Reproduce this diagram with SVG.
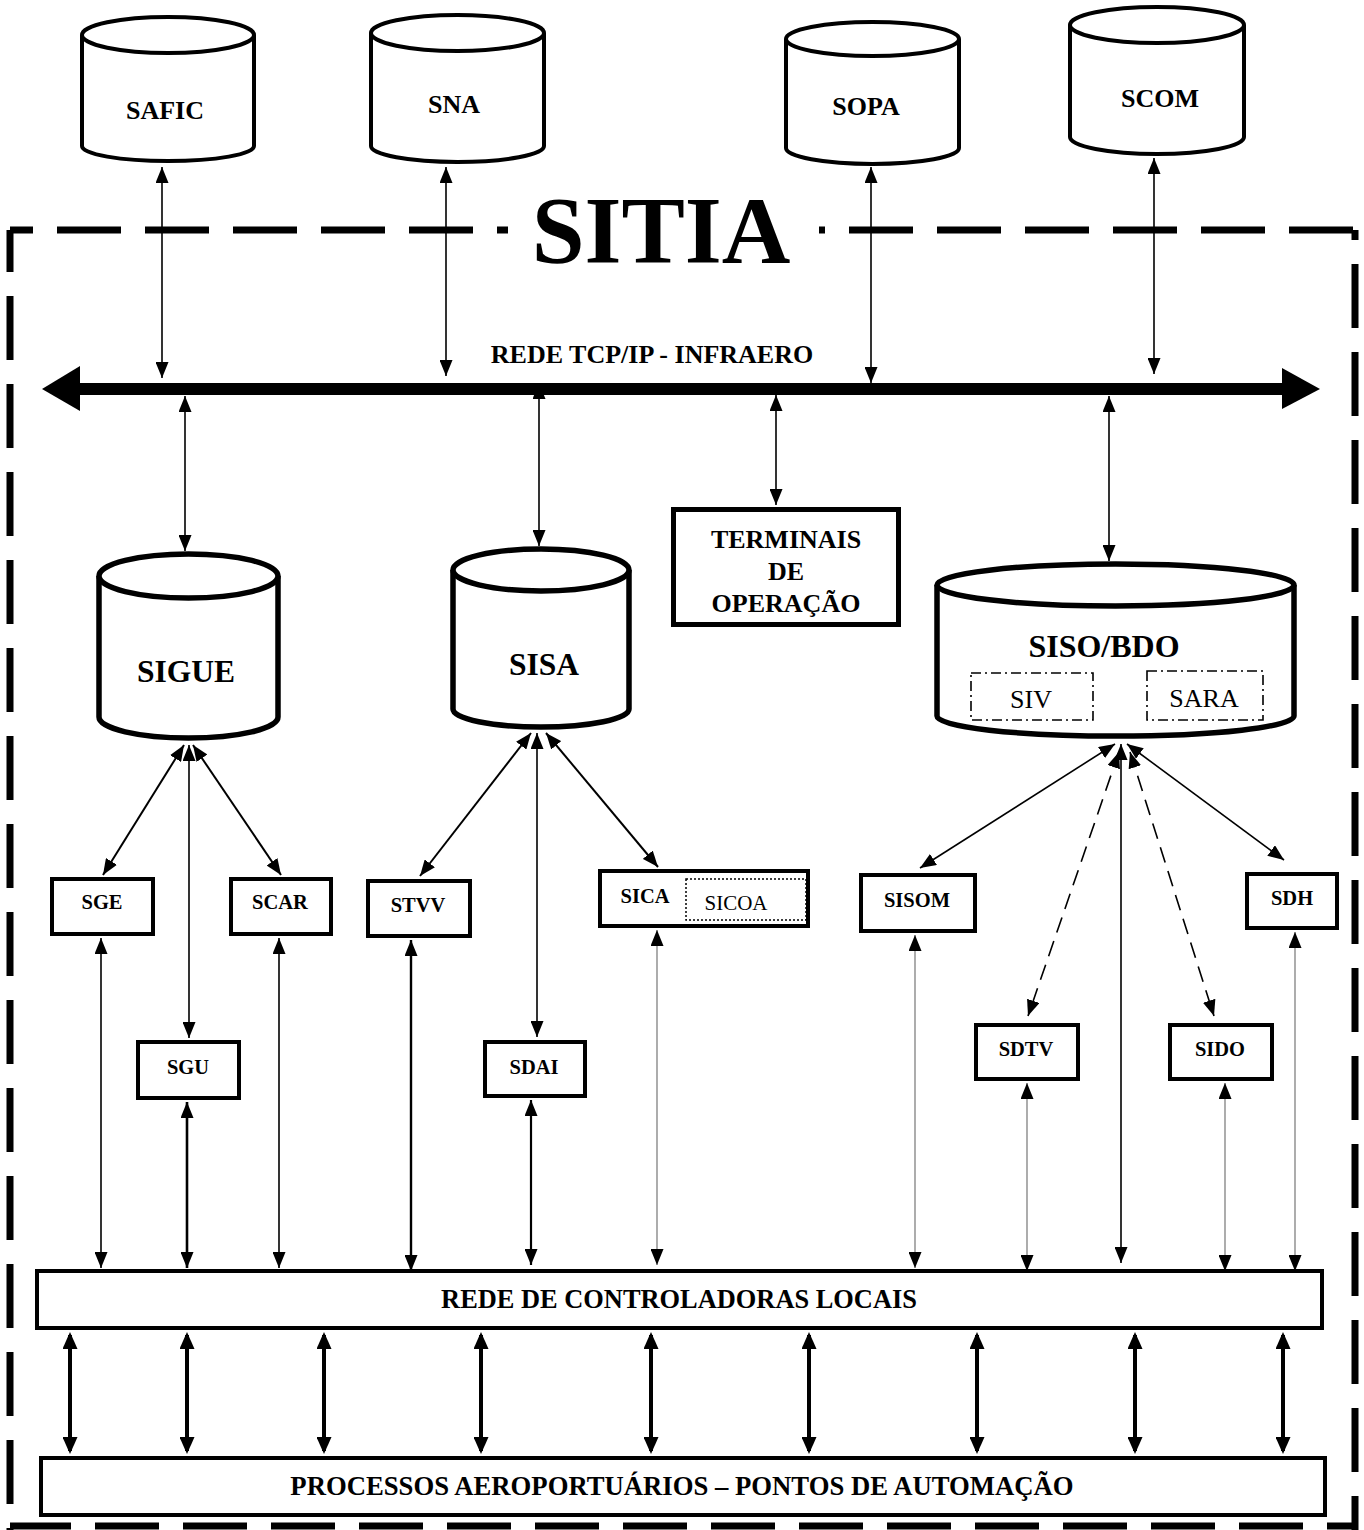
<svg xmlns="http://www.w3.org/2000/svg" width="1364" height="1530" viewBox="0 0 1364 1530">
<style>
  text { font-family: "Liberation Serif", "Times New Roman", serif; fill: #000; text-anchor: middle; }
  .b { font-weight: bold; }
  .t26 { font-size: 26px; }
  .t21 { font-size: 20.5px; }
  .t31 { font-size: 31.5px; }
  .cyl { fill: #fff; stroke: #000; }
  .box { fill: #fff; stroke: #000; stroke-width: 4; }
  .border { fill: none; stroke: #000; stroke-width: 7; stroke-dasharray: 64 24; }
  .c { fill: none; stroke: #000; stroke-width: 1.6; marker-start: url(#ah); marker-end: url(#ah); }
  .cg { fill: none; stroke: #808080; stroke-width: 1.3; marker-start: url(#ah); marker-end: url(#ah); }
  .cd { stroke-dasharray: 16 9; }
  .ct { fill: none; stroke: #000; stroke-width: 4; marker-start: url(#ahT); marker-end: url(#ahT); }
</style>
<defs>
  <marker id="ah" viewBox="0 0 16 13" refX="16" refY="6.5" markerWidth="16" markerHeight="13" markerUnits="userSpaceOnUse" orient="auto-start-reverse">
    <path d="M0,0 L16,6.5 L0,13 z" fill="#000"/>
  </marker>
  <marker id="ahT" viewBox="0 0 17 15" refX="14" refY="7.5" markerWidth="17" markerHeight="15" markerUnits="userSpaceOnUse" orient="auto-start-reverse">
    <path d="M0,0 L17,7.5 L0,15 z" fill="#000"/>
  </marker>
</defs>
<rect width="1364" height="1530" fill="#fff"/>

<g id="sitia-border">
  <path class="border" d="M10,230 H1355" stroke-dashoffset="41"/>
  <path class="border" d="M1355,230 V1530" stroke-dashoffset="54"/>
  <path class="border" d="M10,230 V1530" stroke-dashoffset="22"/>
  <path class="border" d="M10,1526 H1355" stroke-dashoffset="3"/>
  <rect x="508" y="222" width="311" height="18" fill="#fff"/>
  <text class="b" x="661" y="263" style="font-size:95px">SITIA</text>
</g>

<g id="connectors">
  <!-- external systems to TCP/IP network -->
  <path class="c" d="M162,167 V378"/>
  <path class="c" d="M446,167 V376"/>
  <path class="c" d="M871,167 V383"/>
  <path class="c" d="M1154,158 V374"/>
  <!-- network to internal systems -->
  <path class="c" d="M185,396 V551"/>
  <path class="c" d="M539,383 V546"/>
  <path class="c" d="M776,395 V505"/>
  <path class="c" d="M1109,396 V561"/>
  <!-- SIGUE branches -->
  <path class="c" style="stroke-width:2" d="M184,745 L103,875"/>
  <path class="c" style="stroke-width:2" d="M193,745 L281,875"/>
  <path class="c" d="M189,745 V1038"/>
  <!-- SISA branches -->
  <path class="c" style="stroke-width:2" d="M531,733 L420,876"/>
  <path class="c" style="stroke-width:2" d="M546,733 L658,867"/>
  <path class="c" d="M537,733 V1037"/>
  <!-- SISO/BDO branches -->
  <path class="c" d="M1115,744 L920,868"/>
  <path class="c" d="M1127,744 L1284,860"/>
  <path class="c cd" d="M1119,752 L1028,1016"/>
  <path class="c cd" d="M1130,752 L1214,1016"/>
  <path class="c" d="M1121,744 V1263"/>
  <!-- subsystems to local controller network -->
  <path class="c" d="M101,938 V1268"/>
  <path class="c" style="stroke-width:2.6" d="M187,1102 V1268"/>
  <path class="c" d="M279,938 V1268"/>
  <path class="c" style="stroke-width:2.4" d="M411,940 V1271"/>
  <path class="c" style="stroke-width:2.2" d="M531,1100 V1265"/>
  <path class="cg" d="M657,930 V1265"/>
  <path class="cg" d="M915,935 V1268"/>
  <path class="cg" d="M1027,1083 V1271"/>
  <path class="cg" d="M1225,1083 V1271"/>
  <path class="cg" d="M1295,932 V1271"/>
  <!-- local controllers to automation points -->
  <path class="ct" d="M70,1335 V1451"/>
  <path class="ct" d="M187,1335 V1451"/>
  <path class="ct" d="M324,1335 V1451"/>
  <path class="ct" d="M481,1335 V1451"/>
  <path class="ct" d="M651,1335 V1451"/>
  <path class="ct" d="M809,1335 V1451"/>
  <path class="ct" d="M977,1335 V1451"/>
  <path class="ct" d="M1135,1335 V1451"/>
  <path class="ct" d="M1283,1335 V1451"/>
</g>

<g id="rede-tcpip">
  <line x1="76" y1="389" x2="1284" y2="389" stroke="#000" stroke-width="12"/>
  <polygon points="42,389 80,366 80,411" fill="#000"/>
  <polygon points="1320,389 1282,368 1282,409" fill="#000"/>
  <text class="b t26" x="652" y="363">REDE TCP/IP - INFRAERO</text>
</g>

<g id="safic">
  <path class="cyl" stroke-width="4" d="M82,35 V146 A86,15 0 0 0 254,146 V35"/>
  <ellipse class="cyl" stroke-width="4" cx="168" cy="35" rx="86" ry="18"/>
  <text class="b t26" x="165" y="119">SAFIC</text>
</g>
<g id="sna">
  <path class="cyl" stroke-width="4" d="M371,33 V146 A86.5,16 0 0 0 544,146 V33"/>
  <ellipse class="cyl" stroke-width="4" cx="457.5" cy="33" rx="86.5" ry="18"/>
  <text class="b t26" x="454" y="113">SNA</text>
</g>
<g id="sopa">
  <path class="cyl" stroke-width="4" d="M786,39 V148 A86.5,16 0 0 0 959,148 V39"/>
  <ellipse class="cyl" stroke-width="4" cx="872.5" cy="39" rx="86.5" ry="17"/>
  <text class="b t26" x="866" y="115">SOPA</text>
</g>
<g id="scom">
  <path class="cyl" stroke-width="4" d="M1070,25 V137 A87,17 0 0 0 1244,137 V25"/>
  <ellipse class="cyl" stroke-width="4" cx="1157" cy="25" rx="87" ry="18"/>
  <text class="b t26" x="1160" y="107">SCOM</text>
</g>

<g id="sigue">
  <path class="cyl" stroke-width="5.5" d="M99,576 V717 A89.5,21 0 0 0 278,717 V576"/>
  <ellipse class="cyl" stroke-width="5.5" cx="188.5" cy="576" rx="89.5" ry="22"/>
  <text class="b t31" x="186" y="682">SIGUE</text>
</g>
<g id="sisa">
  <path class="cyl" stroke-width="5.5" d="M453,570 V709 A88,18 0 0 0 629,709 V570"/>
  <ellipse class="cyl" stroke-width="5.5" cx="541" cy="570" rx="88" ry="21"/>
  <text class="b t31" x="544" y="675">SISA</text>
</g>
<g id="terminais">
  <rect x="673.5" y="509.5" width="225" height="115" fill="#fff" stroke="#000" stroke-width="5"/>
  <text class="b t26" x="786" y="548">TERMINAIS</text>
  <text class="b t26" x="786" y="580">DE</text>
  <text class="b t26" x="786" y="612">OPERAÇÃO</text>
</g>
<g id="siso-bdo">
  <path class="cyl" stroke-width="5.5" d="M937,585 V716 A178.5,20 0 0 0 1294,716 V585"/>
  <ellipse class="cyl" stroke-width="5.5" cx="1115.5" cy="585" rx="178.5" ry="21"/>
  <text class="b" x="1104" y="657" style="font-size:32px">SISO/BDO</text>
  <g id="siv">
    <rect x="971" y="673" width="122" height="47" fill="none" stroke="#000" stroke-width="1.6" stroke-dasharray="10 4 2 4"/>
    <text x="1031" y="708" style="font-size:26px">SIV</text>
  </g>
  <g id="sara">
    <rect x="1147" y="671" width="116" height="49" fill="none" stroke="#000" stroke-width="1.6" stroke-dasharray="10 4 2 4"/>
    <text x="1204" y="707" style="font-size:26px">SARA</text>
  </g>
</g>

<g id="sge">
  <rect class="box" x="52" y="879" width="101" height="55"/>
  <text class="b t21" x="102" y="909">SGE</text>
</g>
<g id="scar">
  <rect class="box" x="231" y="879" width="100" height="55"/>
  <text class="b t21" x="280" y="909">SCAR</text>
</g>
<g id="stvv">
  <rect class="box" x="368" y="881" width="102" height="55"/>
  <text class="b t21" x="418" y="912">STVV</text>
</g>
<g id="sica">
  <rect class="box" x="600" y="871" width="208" height="55"/>
  <text class="b t21" x="645" y="903">SICA</text>
  <g id="sicoa">
    <rect x="686" y="879" width="120" height="41" fill="none" stroke="#000" stroke-width="1.5" stroke-dasharray="2 2"/>
    <text x="736" y="910" style="font-size:21px">SICOA</text>
  </g>
</g>
<g id="sisom">
  <rect class="box" x="861" y="875" width="114" height="56"/>
  <text class="b t21" x="917" y="907">SISOM</text>
</g>
<g id="sdh">
  <rect class="box" x="1247" y="874" width="90" height="54"/>
  <text class="b t21" x="1292" y="905">SDH</text>
</g>
<g id="sgu">
  <rect class="box" x="138" y="1042" width="101" height="56"/>
  <text class="b t21" x="188" y="1074">SGU</text>
</g>
<g id="sdai">
  <rect class="box" x="485" y="1042" width="100" height="54"/>
  <text class="b t21" x="534" y="1074">SDAI</text>
</g>
<g id="sdtv">
  <rect class="box" x="976" y="1025" width="102" height="54"/>
  <text class="b t21" x="1026" y="1056">SDTV</text>
</g>
<g id="sido">
  <rect class="box" x="1170" y="1025" width="102" height="54"/>
  <text class="b t21" x="1220" y="1056">SIDO</text>
</g>

<g id="rede-controladoras">
  <rect class="box" x="37" y="1271" width="1285" height="57"/>
  <text class="b t26" x="679" y="1308" style="font-size:26.4px">REDE DE CONTROLADORAS LOCAIS</text>
</g>
<g id="processos">
  <rect class="box" x="41" y="1458" width="1284" height="57"/>
  <text class="b" x="682" y="1495" style="font-size:26.7px">PROCESSOS AEROPORTUÁRIOS – PONTOS DE AUTOMAÇÃO</text>
</g>
</svg>
